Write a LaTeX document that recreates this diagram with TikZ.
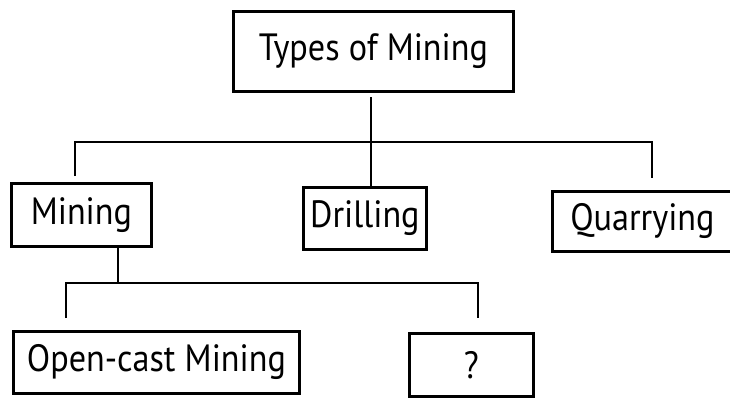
\documentclass[tikz,border=0pt]{standalone}
\usepackage{fontspec}
\setmainfont{PT Sans}
\usepackage{graphicx}
\newcommand{\sq}[1]{\scalebox{0.9}[1]{#1}}
\begin{document}
\begin{tikzpicture}[x=1pt,y=-1pt,
  box/.style={draw=black,line width=2.8pt,inner sep=0pt,anchor=north west,font=\fontsize{38}{40}\selectfont},
  conn/.style={draw=black,line width=2.8pt}]
\useasboundingbox (0,0) rectangle (730,397);
\node[box,minimum width=280,minimum height=80] (top) at (232,10) {\sq{Types of Mining}};
\node[box,minimum width=140,minimum height=63] (mining) at (10,182) {\sq{Mining}};
\node[box,minimum width=123,minimum height=62] (drill) at (302,186) {\sq{Drilling}};
\node[box,minimum width=180,minimum height=60] (quarry) at (551,190) {\sq{Quarrying}};
\node[box,minimum width=286,minimum height=62] (open) at (12,330) {\sq{Open-cast Mining}};
\node[box,minimum width=124,minimum height=63] (q) at (408,332) {\sq{?}};
\coordinate (tv) at (371,97);
\coordinate (bar) at (0,142);
\coordinate (a1) at (75,176);
\coordinate (a2) at (652,178);
\coordinate (mdrop) at (118,245);
\coordinate (bar2) at (0,283);
\coordinate (b1) at (66,318);
\coordinate (b2) at (478,318);
\draw[conn] (tv) -- (tv |- drill.north);
\draw[conn] (a1) -- (a1 |- bar) -- (a2 |- bar) -- (a2);
\draw[conn] (mdrop) -- (mdrop |- bar2);
\draw[conn] (b1) -- (b1 |- bar2) -- (b2 |- bar2) -- (b2);
\end{tikzpicture}
\end{document}
